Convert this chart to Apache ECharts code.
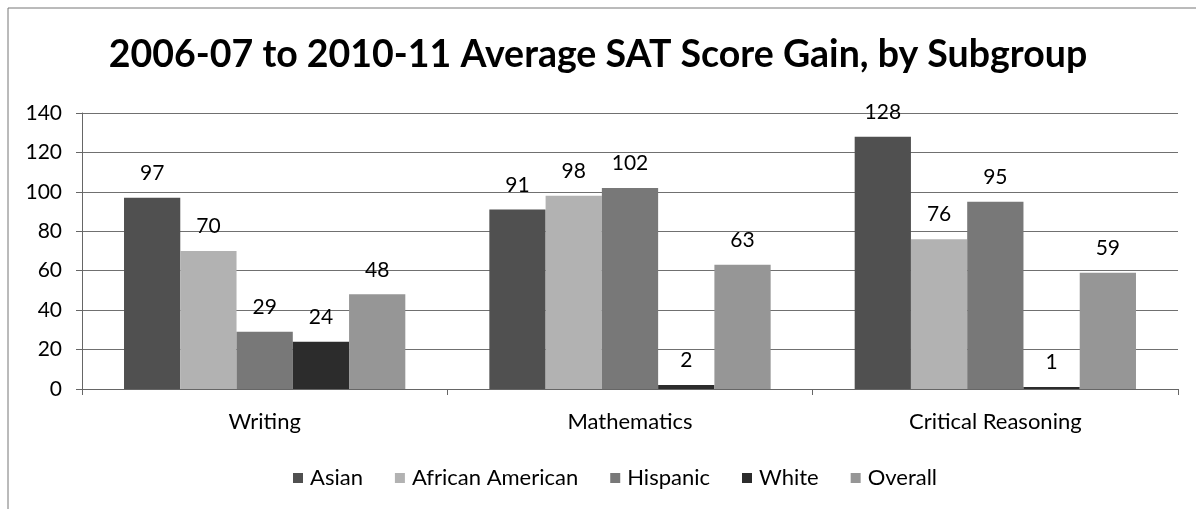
<!DOCTYPE html>
<html>
<head>
<meta charset="utf-8">
<script src="https://cdn.jsdelivr.net/npm/echarts@6/dist/echarts.min.js"></script>
<style>
html,body{margin:0;padding:0;background:#fff;}
#chart{width:1196px;height:509px;}
</style>
</head>
<body>
<div id="chart"></div>
<script>
const titleText = '2006-07 to 2010-11 Average SAT Score Gain, by Subgroup';
const categories = ['Writing', 'Mathematics', 'Critical Reasoning'];
const seriesNames = ['Asian', 'African American', 'Hispanic', 'White', 'Overall'];
const asian = [97, 91, 128];
const africanAmerican = [70, 98, 76];
const hispanic = [29, 102, 95];
const white = [24, 2, 1];
const overall = [48, 63, 59];
const yTicks = [0, 20, 40, 60, 80, 100, 120, 140];

const seriesData = [asian, africanAmerican, hispanic, white, overall];
const colors = ['#505050', '#b2b2b2', '#787878', '#2c2c2c', '#969696'];
const FONT = 'Lato';

const chart = echarts.init(document.getElementById('chart'));
chart.setOption({
  animation: false,
  backgroundColor: '#ffffff',
  title: {
    text: titleText,
    left: 'center',
    top: 31,
    textStyle: { fontFamily: FONT, fontWeight: 'bold', fontSize: 37.5, color: '#000' }
  },
  legend: {
    data: seriesNames,
    left: 288,
    top: 462,
    icon: 'rect',
    itemWidth: 10,
    itemHeight: 10,
    itemGap: 32,
    textStyle: { fontFamily: FONT, fontSize: 22, color: '#000', padding: [0, 0, 0, 2] }
  },
  grid: { left: 82, right: 18, top: 113, bottom: 120 },
  xAxis: {
    type: 'category',
    data: categories,
    axisLine: { lineStyle: { color: '#666', width: 1 } },
    axisTick: { show: true, length: 6, lineStyle: { color: '#666' } },
    axisLabel: { fontFamily: FONT, fontSize: 22, color: '#000', margin: 22 }
  },
  yAxis: {
    type: 'value',
    min: yTicks[0],
    max: yTicks[yTicks.length - 1],
    interval: 20,
    axisLine: { show: true, lineStyle: { color: '#666', width: 1 } },
    axisTick: { show: true, length: 6, lineStyle: { color: '#666' } },
    axisLabel: { fontFamily: FONT, fontSize: 21, color: '#000', margin: 20 },
    splitLine: { lineStyle: { color: '#707070', width: 1 } }
  },
  series: seriesNames.map((name, i) => ({
    name: name,
    type: 'bar',
    data: seriesData[i],
    barGap: '0%',
    barCategoryGap: '23%',
    itemStyle: { color: colors[i] },
    label: {
      show: true,
      position: 'top',
      distance: 14,
      fontFamily: FONT,
      fontSize: 21,
      color: '#000'
    }
  })),
  graphic: [
    { type: 'line', shape: { x1: 8, y1: 8, x2: 1196, y2: 8 }, style: { stroke: '#777', lineWidth: 1 } },
    { type: 'line', shape: { x1: 8, y1: 8, x2: 8, y2: 509 }, style: { stroke: '#777', lineWidth: 1 } }
  ]
});
</script>
</body>
</html>
